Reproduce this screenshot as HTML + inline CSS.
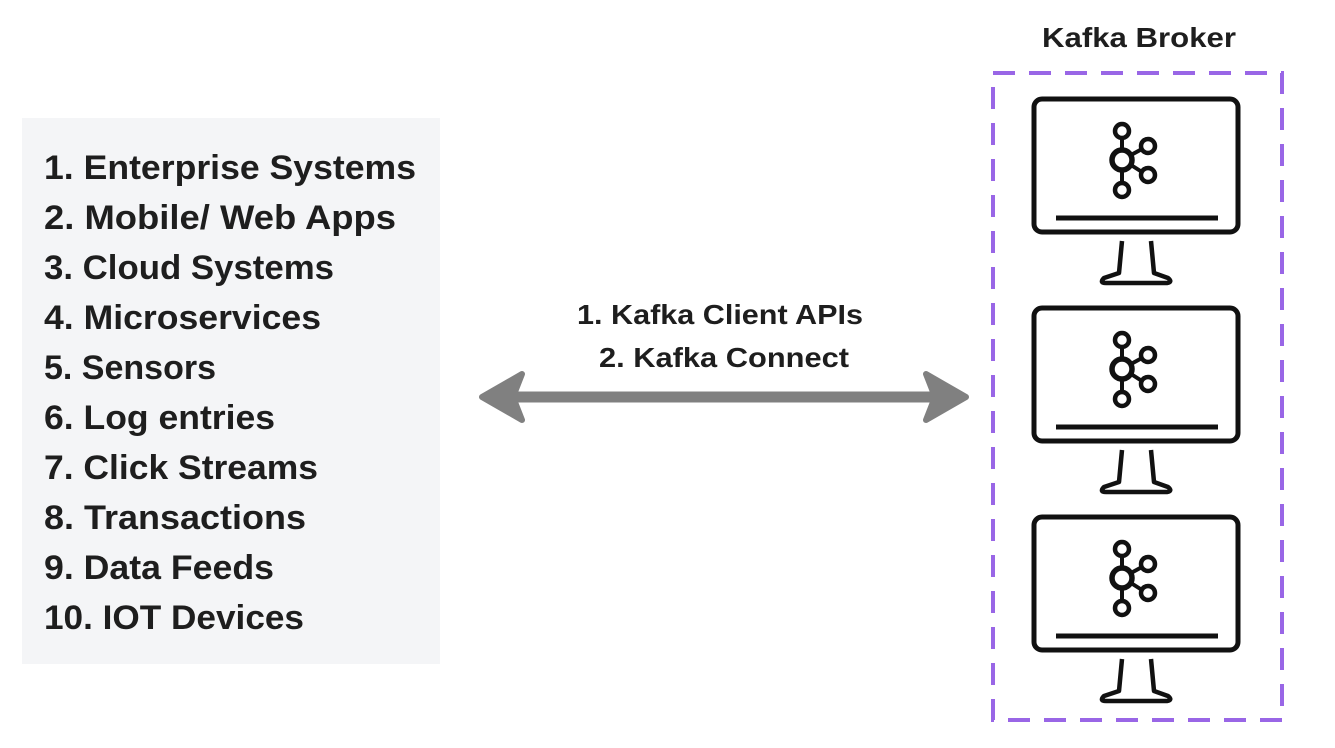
<!DOCTYPE html>
<html><head><meta charset="utf-8"><style>
html,body{margin:0;padding:0;background:#fff;}
svg{display:block;}
text{font-family:"Liberation Sans",sans-serif;font-weight:bold;fill:#1e1e1e;}
</style></head><body>
<svg width="1335" height="748" viewBox="0 0 1335 748" xmlns="http://www.w3.org/2000/svg">
<defs>
<g id="mon" fill="none" stroke="#111" stroke-width="5">
  <rect x="1034" y="99" width="204" height="133" rx="8"/>
  <line x1="1056" y1="218" x2="1218" y2="218" stroke-width="5"/>
  <path d="M1122 241 L1119 273 L1104 278 Q1099 283 1106 283 L1167 283 Q1173 282 1168 278 L1154 273 L1151 241" stroke-width="4.5" stroke-linejoin="round"/>
  <circle cx="1122" cy="160" r="10" stroke-width="5.5"/>
  <circle cx="1122" cy="131" r="7" stroke-width="4.5"/>
  <circle cx="1122" cy="190" r="7" stroke-width="4.5"/>
  <circle cx="1148" cy="146" r="7" stroke-width="4.5"/>
  <circle cx="1148" cy="175" r="7" stroke-width="4.5"/>
  <line x1="1122" y1="138" x2="1122" y2="150" stroke-width="4"/>
  <line x1="1122" y1="170" x2="1122" y2="183" stroke-width="4"/>
  <line x1="1131" y1="155" x2="1142" y2="149" stroke-width="4"/>
  <line x1="1131" y1="165" x2="1142" y2="172" stroke-width="4"/>
</g>
</defs>
<rect x="22" y="118" width="418" height="546" fill="#f4f5f7"/>
<g font-size="34">
<text x="44" y="179" textLength="372" lengthAdjust="spacingAndGlyphs">1. Enterprise Systems</text>
<text x="44" y="229" textLength="352" lengthAdjust="spacingAndGlyphs">2. Mobile/ Web Apps</text>
<text x="44" y="279" textLength="290" lengthAdjust="spacingAndGlyphs">3. Cloud Systems</text>
<text x="44" y="329" textLength="277" lengthAdjust="spacingAndGlyphs">4. Microservices</text>
<text x="44" y="379" textLength="172" lengthAdjust="spacingAndGlyphs">5. Sensors</text>
<text x="44" y="429" textLength="231" lengthAdjust="spacingAndGlyphs">6. Log entries</text>
<text x="44" y="479" textLength="274" lengthAdjust="spacingAndGlyphs">7. Click Streams</text>
<text x="44" y="529" textLength="262" lengthAdjust="spacingAndGlyphs">8. Transactions</text>
<text x="44" y="579" textLength="230" lengthAdjust="spacingAndGlyphs">9. Data Feeds</text>
<text x="44" y="629" textLength="260" lengthAdjust="spacingAndGlyphs">10. IOT Devices</text>
</g>
<g font-size="28" text-anchor="middle">
<text x="720" y="324" textLength="286" lengthAdjust="spacingAndGlyphs">1. Kafka Client APIs</text>
<text x="724" y="367" textLength="250" lengthAdjust="spacingAndGlyphs">2. Kafka Connect</text>
<text x="1139" y="47" textLength="194" lengthAdjust="spacingAndGlyphs">Kafka Broker</text>
</g>
<g fill="#808080" stroke="#808080" stroke-linejoin="round" stroke-width="6">
  <line x1="500" y1="397" x2="950" y2="397" stroke-width="11"/>
  <path d="M482 397 L522 374 L513 397 L522 420 Z"/>
  <path d="M966 397 L926 374 L935 397 L926 420 Z"/>
</g>
<rect x="993" y="73" width="289" height="647" fill="none" stroke="#9966e6" stroke-width="4" stroke-dasharray="22 14"/>
<use href="#mon"/>
<use href="#mon" transform="translate(0,209)"/>
<use href="#mon" transform="translate(0,418)"/>
</svg>
</body></html>
